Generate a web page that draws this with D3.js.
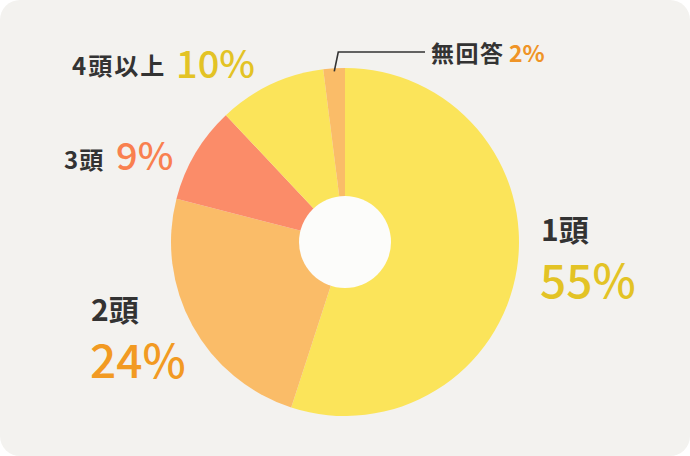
<!DOCTYPE html>
<html>
<head>
<meta charset="utf-8">
<script src="https://cdn.jsdelivr.net/npm/d3@7"></script>
<style>
  html, body { margin: 0; padding: 0; background: #fff; }
  svg { display: block; }
</style>
</head>
<body>
<svg id="chart" width="690" height="456"></svg>
<script>
const categories = ["1頭", "2頭", "3頭", "4頭以上", "無回答"];
const shares = [55, 24, 9, 10, 2];
const slice_colors = ["#fbe45a", "#fabc68", "#fb8c69", "#fbe45a", "#fabc68"];
const pct_colors = ["#e3c325", "#f29a22", "#f9804f", "#e3c325", "#ef9426"];

const width = 690, height = 456;
const cx = 345, cy = 242;
const outer_r = 174, inner_r = 46;
const font = "'Noto Sans CJK JP', 'Noto Sans', sans-serif";

const svg = d3.select("#chart");

// background card
svg.append("rect")
    .attr("width", width)
    .attr("height", height)
    .attr("rx", 20)
    .attr("fill", "#f3f2ef");

// pie, clockwise from 12 o'clock, no sorting
let pie = d3.pie().sort(null).value(d => d);
let arcs = pie(shares);
let arc = d3.arc().innerRadius(0).outerRadius(outer_r);

let g = svg.append("g").attr("transform", `translate(${cx},${cy})`);
g.selectAll("path")
    .data(arcs)
    .join("path")
    .attr("d", arc)
    .attr("fill", (d, i) => slice_colors[i]);

g.append("circle")
    .attr("r", inner_r)
    .attr("fill", "#fcfcfa");

// leader line for the small slice
let small = arcs[4];
let mid = (small.startAngle + small.endAngle) / 2;
let p0 = [Math.sin(mid) * (outer_r - 3), -Math.cos(mid) * (outer_r - 3)];
g.append("path")
    .attr("d", d3.line()([[p0[0], p0[1]], [p0[0] + 4, -190], [80, -190]]))
    .attr("fill", "none")
    .attr("stroke", "#333")
    .attr("stroke-width", 1.6);

// labels: [index, x, y of name, x, y of percent, name size, pct size, spacing]
const label_spots = [
    [0, 541, 241, 540, 298, 30, 46, 0],
    [1, 91, 321, 90, 378, 30, 46, 0],
    [2, 64, 169, 116, 170, 24, 38, 1],
    [3, 72, 75, 176, 78, 24, 38, 2],
    [4, 431, 62, 509, 62, 23, 23, 1.5]
];

label_spots.forEach(([i, nx, ny, px, py, ns, ps, ls]) => {
    svg.append("text")
        .attr("x", nx).attr("y", ny)
        .attr("font-family", font)
        .attr("font-weight", 700)
        .attr("font-size", ns)
        .attr("letter-spacing", ls)
        .attr("fill", "#333")
        .text(categories[i]);
    svg.append("text")
        .attr("x", px).attr("y", py)
        .attr("font-family", font)
        .attr("font-weight", i === 4 ? 700 : 500)
        .attr("font-size", ps)
        .attr("fill", pct_colors[i])
        .text(shares[i] + "%");
});
</script>
</body>
</html>
